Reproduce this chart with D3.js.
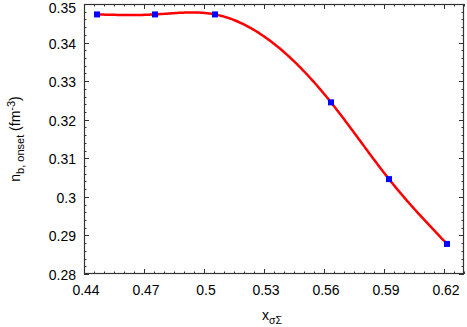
<!DOCTYPE html>
<html lang="en">
<head>
  <meta charset="UTF-8" />
  <title>n_b onset vs x_sigmaSigma</title>
  <style>
    body { margin: 0; background: #fff; }
    svg { display: block; font-family: 'Liberation Sans', Arial, sans-serif; }
  </style>
</head>
<body>
  <div id="chart"></div>
  <script src="https://d3js.org/d3.v7.min.js"></script>
  <script>
    // values
    const xVals = [0.4465, 0.4755, 0.5055, 0.5635, 0.5925, 0.6215];
    const yVals = [0.3473, 0.3473, 0.3473, 0.3245, 0.3046, 0.2878];
    const xTicks = [0.44, 0.47, 0.5, 0.53, 0.56, 0.59, 0.62];
    const yTicks = [0.28, 0.29, 0.3, 0.31, 0.32, 0.33, 0.34, 0.35];

    const width = 467, height = 327;
    const margin = { left: 84, right: 3, top: 4, bottom: 53 };

    const svg = d3.select("#chart").append("svg")
      .attr("width", width)
      .attr("height", height);

    const x = d3.scaleLinear().domain([0.44, 0.63]).range([margin.left, width - margin.right]);
    const y = d3.scaleLinear().domain([0.28, 0.35]).range([height - margin.bottom, margin.top]);

    // natural cubic spline through the points (like gnuplot csplines)
    function naturalSpline(xs, ys) {
      const n = xs.length;
      const h = [];
      for (let i = 0; i < n - 1; i++) h.push(xs[i + 1] - xs[i]);
      const M = new Array(n).fill(0);
      // tridiagonal system for interior second derivatives
      const sub = [], diag = [], sup = [], rhs = [];
      for (let i = 1; i < n - 1; i++) {
        sub.push(h[i - 1]);
        diag.push(2 * (h[i - 1] + h[i]));
        sup.push(h[i]);
        rhs.push(6 * ((ys[i + 1] - ys[i]) / h[i] - (ys[i] - ys[i - 1]) / h[i - 1]));
      }
      const m = diag.length;
      for (let i = 1; i < m; i++) {
        const w = sub[i] / diag[i - 1];
        diag[i] -= w * sup[i - 1];
        rhs[i] -= w * rhs[i - 1];
      }
      const sol = new Array(m);
      sol[m - 1] = rhs[m - 1] / diag[m - 1];
      for (let i = m - 2; i >= 0; i--) sol[i] = (rhs[i] - sup[i] * sol[i + 1]) / diag[i];
      for (let i = 0; i < m; i++) M[i + 1] = sol[i];

      return function (t) {
        let i = 0;
        while (i < n - 2 && t > xs[i + 1]) i++;
        const hi = h[i];
        const A = (xs[i + 1] - t) / hi, B = (t - xs[i]) / hi;
        return A * ys[i] + B * ys[i + 1] +
          ((A * A * A - A) * M[i] + (B * B * B - B) * M[i + 1]) * hi * hi / 6;
      };
    }

    const spline = naturalSpline(xVals, yVals);
    const curve = d3.range(0, 301).map(k => {
      const t = xVals[0] + (xVals[xVals.length - 1] - xVals[0]) * k / 300;
      return [t, spline(t)];
    });

    const axisColor = "#333";
    const x0 = x.range()[0], x1 = x.range()[1];
    const y0 = y.range()[0], y1 = y.range()[1];

    // minor + major ticks, mirrored on all four sides, pointing inward
    const xMinor = d3.range(0, 39).map(k => 0.44 + k * 0.005);
    const yMinor = d3.range(0, 36).map(k => 0.28 + k * 0.002);
    const tickG = svg.append("g").attr("stroke", axisColor).attr("stroke-width", 1);

    xMinor.forEach(v => {
      const major = xTicks.some(t => Math.abs(t - v) < 1e-6);
      const len = major ? 5 : 2.5;
      const px = Math.round(x(v)) + 0.5;
      tickG.append("line").attr("x1", px).attr("x2", px).attr("y1", y0).attr("y2", y0 - len);
      tickG.append("line").attr("x1", px).attr("x2", px).attr("y1", y1).attr("y2", y1 + len);
    });
    yMinor.forEach(v => {
      const major = yTicks.some(t => Math.abs(t - v) < 1e-6);
      const len = major ? 5 : 2.5;
      const py = Math.round(y(v)) + 0.5;
      tickG.append("line").attr("y1", py).attr("y2", py).attr("x1", x0).attr("x2", x0 + len);
      tickG.append("line").attr("y1", py).attr("y2", py).attr("x1", x1).attr("x2", x1 - len);
    });

    svg.append("rect")
      .attr("x", x0 + 0.5).attr("y", y1 + 0.5)
      .attr("width", x1 - x0 - 1).attr("height", y0 - y1 - 1)
      .attr("fill", "none").attr("stroke", axisColor).attr("stroke-width", 1.2);

    // tick labels
    svg.append("g").selectAll("text").data(xTicks).enter().append("text")
      .attr("x", d => x(d) + 2)
      .attr("y", y0 + 21)
      .attr("text-anchor", "middle")
      .attr("font-size", 14)
      .text(d => d3.format("")(d));

    // top label sits a little low so it stays inside the page
    svg.append("g").selectAll("text").data(yTicks).enter().append("text")
      .attr("x", x0 - 8)
      .attr("y", d => Math.max(y(d) + 6, 13))
      .attr("text-anchor", "end")
      .attr("font-size", 14)
      .text(d => d3.format("")(d));

    // curve and points
    const line = d3.line().x(d => x(d[0])).y(d => y(d[1]));
    svg.append("path")
      .datum(curve)
      .attr("d", line)
      .attr("fill", "none")
      .attr("stroke", "#ff0000")
      .attr("stroke-width", 2.5);

    svg.append("g").selectAll("rect").data(xVals).enter().append("rect")
      .attr("x", (d, i) => x(d) - 3)
      .attr("y", (d, i) => y(yVals[i]) - 3)
      .attr("width", 6).attr("height", 6)
      .attr("fill", "#0000ff");

    // axis titles
    const xt = svg.append("text")
      .attr("x", 272).attr("y", 320)
      .attr("text-anchor", "middle")
      .attr("font-size", 14);
    xt.append("tspan").text("x");
    xt.append("tspan").attr("dy", 4).attr("font-size", 10.5).text("σΣ");

    const yt = svg.append("text")
      .attr("transform", "translate(20," + ((y0 + y1) / 2) + ") rotate(-90)")
      .attr("text-anchor", "middle")
      .attr("font-size", 14);
    yt.append("tspan").text("n");
    yt.append("tspan").attr("dy", 4).attr("font-size", 11).text("b, onset");
    yt.append("tspan").attr("dy", -4).text(" (fm");
    yt.append("tspan").attr("dy", -5).attr("font-size", 11).text("-3");
    yt.append("tspan").attr("dy", 5).text(")");
  </script>
</body>
</html>
